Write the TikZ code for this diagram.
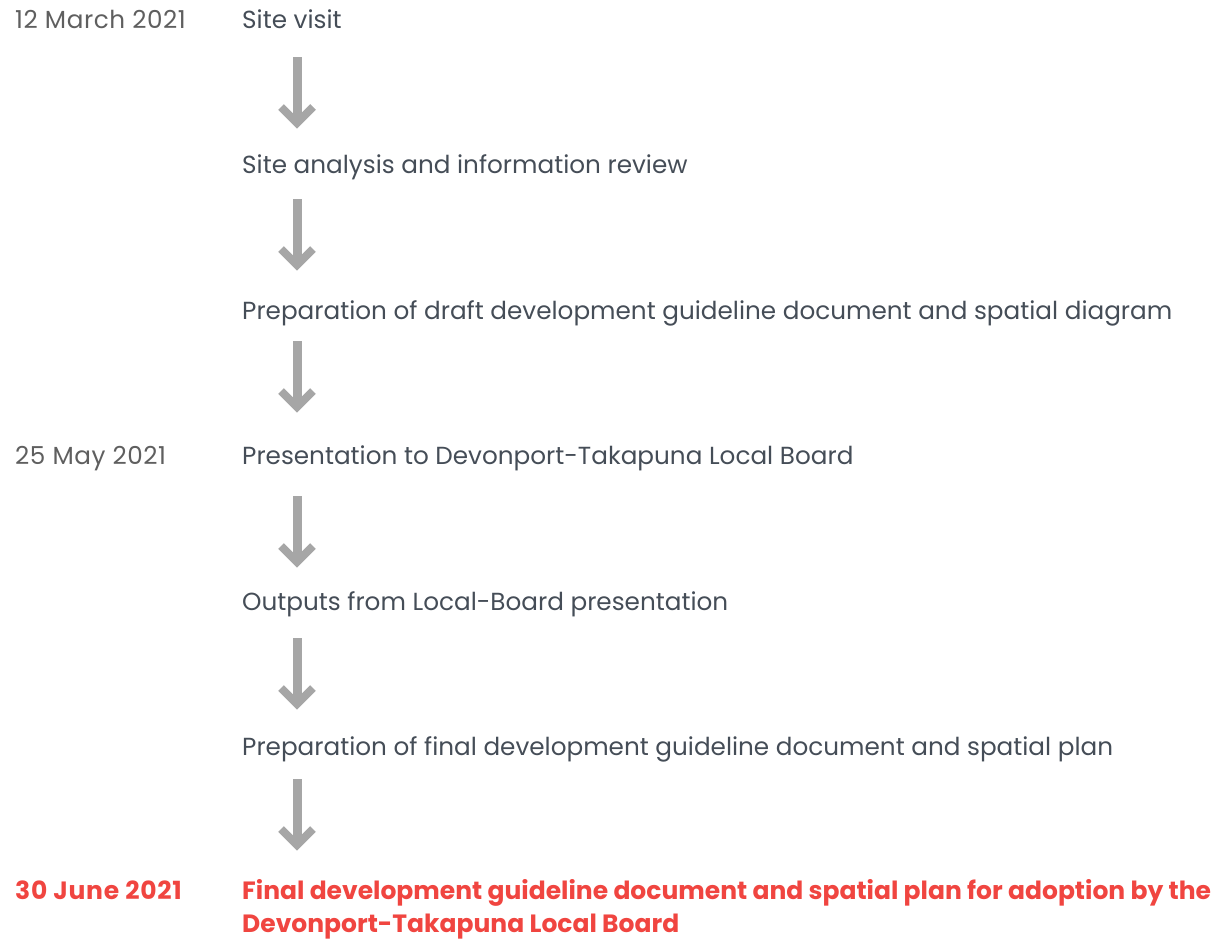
\documentclass[tikz,border=0pt]{standalone}
\usepackage{fontspec}
\setmainfont{Poppins}
\definecolor{txt}{HTML}{454D57}
\definecolor{datec}{HTML}{5F5F5F}
\definecolor{redc}{HTML}{F04540}
\definecolor{arrc}{HTML}{A6A6A6}
\begin{document}
\begin{tikzpicture}[x=1pt,y=-1pt,
  step text/.style={anchor=base west,inner sep=0pt,text=txt,font=\fontsize{24.7}{33}\selectfont},
  date text/.style={anchor=base west,inner sep=0pt,text=datec,font=\fontsize{24.7}{33}\selectfont\addfontfeature{LetterSpace=2.2}},
  final date/.style={anchor=base west,inner sep=0pt,text=redc,font=\fontsize{25}{33}\selectfont\bfseries\addfontfeature{LetterSpace=3}},
  final text/.style={anchor=base west,inner sep=0pt,text=redc,font=\fontsize{25}{33}\selectfont\bfseries,align=left},
  shaft/.style={draw=arrc,line width=9pt},
  headline/.style={draw=arrc,line width=8pt,line join=miter}]
\useasboundingbox (0,0) rectangle (1216,940);
\node[date text] (d1) at (15,28) {12 March 2021};
\node[step text] (s1) at (242,28) {Site visit};
\node[step text] (s2) at (242,173) {Site analysis and information review};
\node[step text] (s3) at (242,319) {Preparation of draft development guideline document and spatial diagram};
\node[date text] (d2) at (15,464) {25 May 2021};
\node[step text] (s4) at (242,464) {Presentation to Devonport-Takapuna Local Board};
\node[step text] (s5) at (242,610) {Outputs from Local-Board presentation};
\node[step text] (s6) at (242,755) {Preparation of final development guideline document and spatial plan};
\node[final date] (d3) at (15,899) {30 June 2021};
\node[final text] (s7) at (242,932) {Final development guideline document and spatial plan for adoption by the\\Devonport-Takapuna Local Board};
\foreach \i/\t in {1/57,2/199,3/341,4/496,5/638,6/779}{
  \coordinate (a\i) at (297,\t);
  \coordinate (b\i) at (297,\t+66);
  \draw[shaft] (a\i) -- ([yshift=-1pt]b\i);
  \draw[headline] ([shift={(-16,-16)}]b\i) -- (b\i) -- ([shift={(16,-16)}]b\i);
}
\end{tikzpicture}
\end{document}
